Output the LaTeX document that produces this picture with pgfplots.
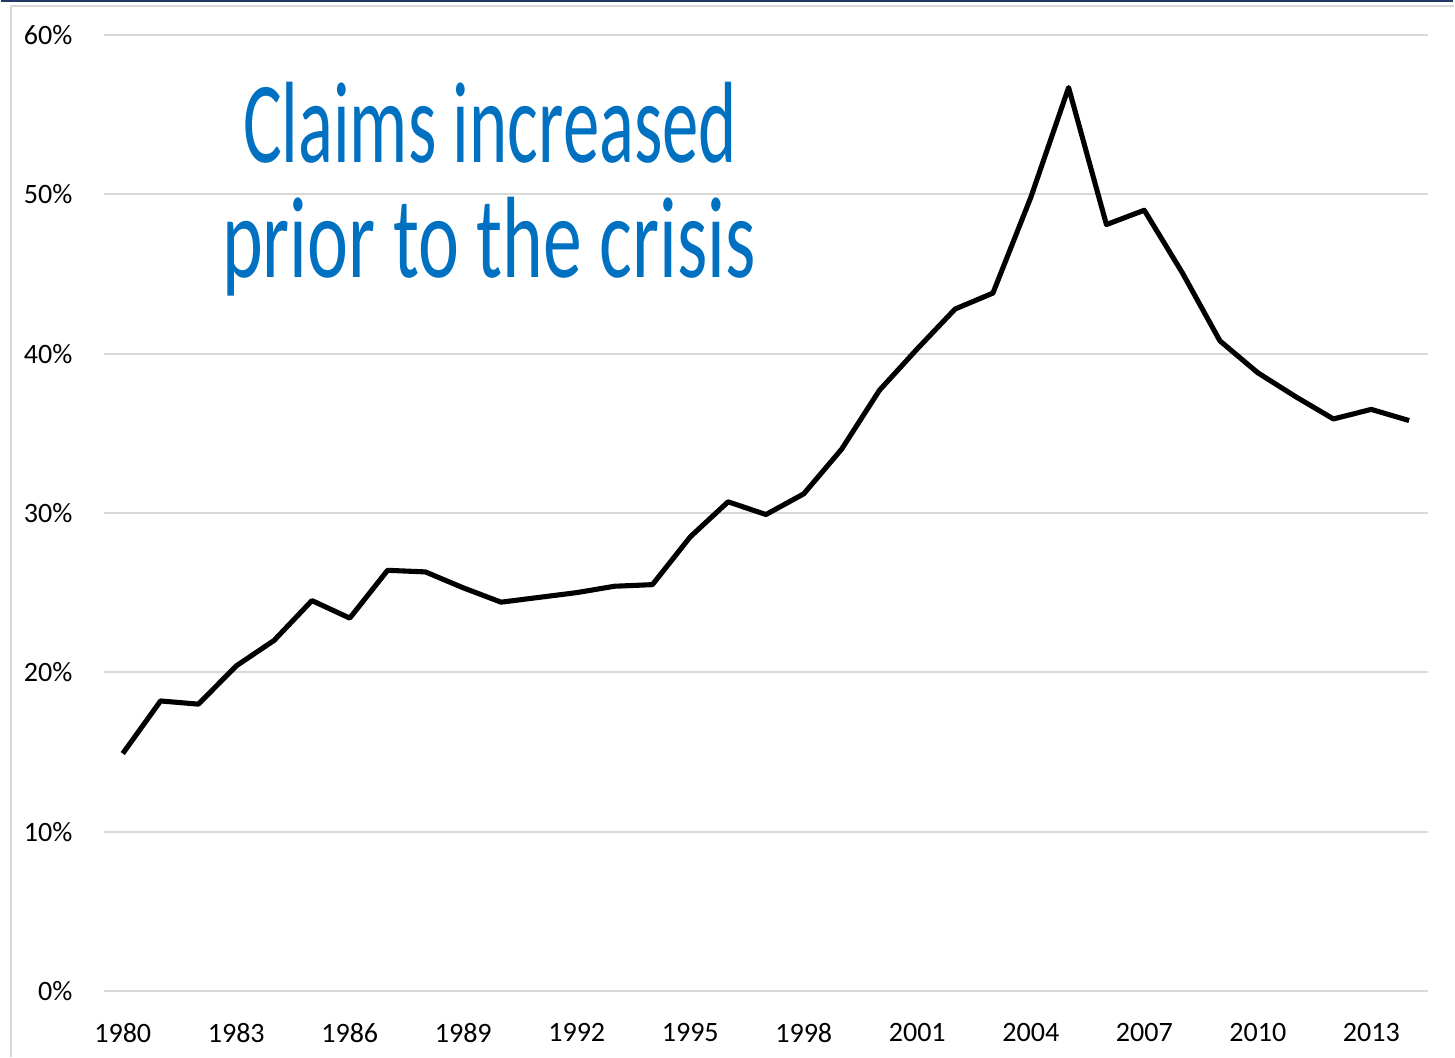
\documentclass[border=0pt]{standalone}
\usepackage{fontspec}
\setmainfont{Carlito}
\usepackage{graphicx}
\usepackage{pgfplots}
\pgfplotsset{compat=1.18}
\definecolor{gridgray}{HTML}{D9D9D9}
\definecolor{framegray}{HTML}{D9D9D9}
\definecolor{navy}{HTML}{1F3864}
\definecolor{annblue}{HTML}{0070C0}
\begin{document}
\begin{tikzpicture}
\begin{axis}[
  scale only axis,
  width=13.27cm, height=9.58cm,
  xmin=1979.5, xmax=2014.5,
  ymin=0, ymax=60,
  axis line style={draw=none},
  major tick length=0pt,
  tick style={draw=none},
  ymajorgrids,
  grid style={gridgray, line width=0.57pt},
  xtick={1980,1983,...,2013},
  ytick={0,10,...,60},
  /pgf/number format/assume math mode=true,
  xticklabel style={/pgf/number format/1000 sep={}, font=\fontsize{8}{9.6}\selectfont, yshift=-0.2cm},
  yticklabel={\pgfmathprintnumber{\tick}\%},
  yticklabel style={font=\fontsize{8}{9.6}\selectfont, xshift=-0.19cm},
  clip=false,
]
\addplot[black, line width=1.45pt, line join=round] coordinates {
(1980,14.9) (1981,18.2) (1982,18.0) (1983,20.4) (1984,22.0) (1985,24.5)
(1986,23.4) (1987,26.4) (1988,26.3) (1989,25.3) (1990,24.4) (1991,24.7)
(1992,25.0) (1993,25.4) (1994,25.5) (1995,28.5) (1996,30.7) (1997,29.9)
(1998,31.2) (1999,34.0) (2000,37.7) (2001,40.3) (2002,42.8) (2003,43.8)
(2004,49.8) (2005,56.7) (2006,48.1) (2007,49.0) (2008,45.1) (2009,40.8)
(2010,38.8) (2011,37.3) (2012,35.9) (2013,36.5) (2014,35.8)
};
\coordinate (O) at (rel axis cs:0,0);
\end{axis}
% annotation
\node[anchor=base, text=annblue, inner sep=0pt] at ([shift={(3.87,8.30)}]O)
  {\resizebox{4.95cm}{\height}{\fontsize{33}{36}\selectfont Claims increased}};
\node[anchor=base, text=annblue, inner sep=0pt] at ([shift={(3.86,7.15)}]O)
  {\resizebox{5.35cm}{\height}{\fontsize{33}{36}\selectfont prior to the crisis}};
% frame
\draw[framegray, line width=0.6pt] ([shift={(-0.93,-0.66)}]O) -- ([shift={(-0.93,9.87)}]O) -- ([shift={(13.53,9.87)}]O);
\draw[navy, line width=0.6pt] ([shift={(-1.03,9.92)}]O) -- ([shift={(13.52,9.92)}]O);
\path[use as bounding box] ([shift={(-1.03,-0.65)}]O) rectangle ([shift={(13.52,9.93)}]O);
\end{tikzpicture}
\end{document}
